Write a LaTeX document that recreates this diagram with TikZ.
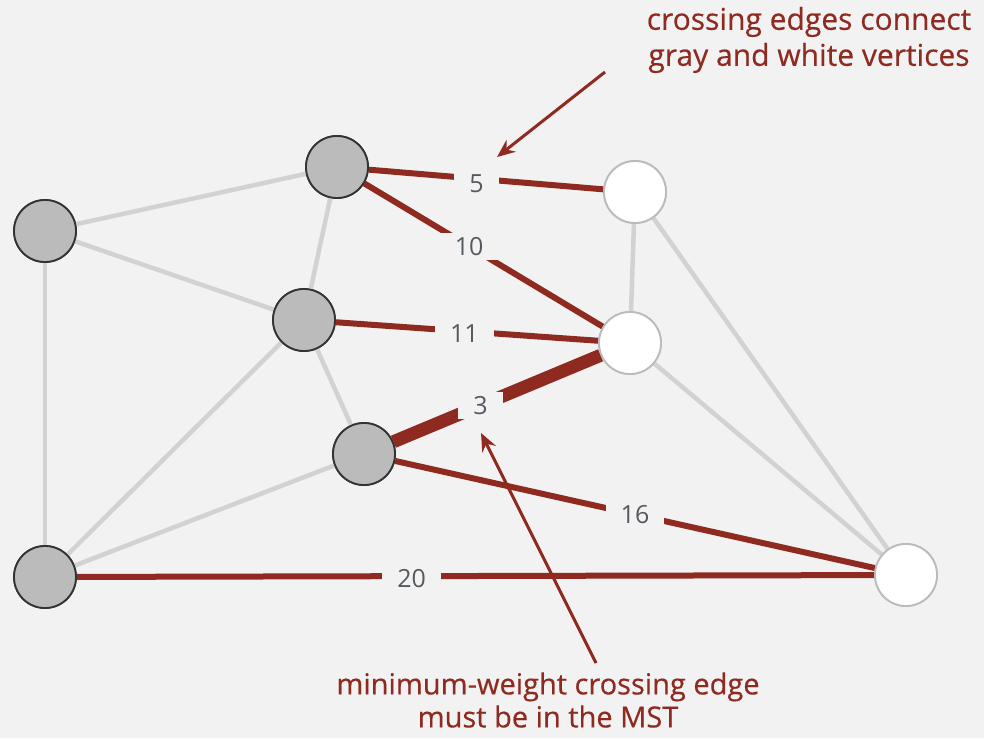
\documentclass[tikz,border=0pt]{standalone}
\usepackage{fontspec}
\setmainfont{Open Sans}
\newfontfamily\notefont[FakeBold=0.4]{Open Sans}
\usetikzlibrary{arrows.meta}
\definecolor{bg}{HTML}{F2F2F2}
\definecolor{mred}{HTML}{8E2A20}
\definecolor{lgray}{HTML}{D2D2D2}
\definecolor{vgray}{HTML}{BBBBBB}
\definecolor{numgray}{HTML}{555A60}
\tikzset{
  gv/.style={circle, draw=black!80, fill=vgray, line width=1.8pt, minimum size=62pt, inner sep=0pt},
  wv/.style={circle, draw=vgray, fill=white, line width=1.8pt, minimum size=62pt, inner sep=0pt},
  ge/.style={draw=lgray, line width=4.5pt},
  re/.style={draw=mred, line width=6pt},
  lbl/.style={fill=bg, text=numgray, font=\fontsize{25}{27}\selectfont, inner xsep=15pt, inner ysep=4pt},
  note/.style={text=mred, font=\notefont\fontsize{30}{36}\selectfont, align=center},
  arr/.style={draw=mred, line width=3pt, -{Stealth[length=18pt,width=15pt,inset=6pt]}}
}
\begin{document}
\begin{tikzpicture}[x=1pt,y=-1pt]
\fill[bg] (0,0) rectangle (984,738);
\useasboundingbox (0,0) rectangle (984,738);
% vertices
\node[gv] (A) at (45,231) {};
\node[gv] (B) at (337,167) {};
\node[gv] (C) at (304,320) {};
\node[gv] (D) at (364,454) {};
\node[gv] (E) at (45,577) {};
\node[wv] (F) at (635,192) {};
\node[wv] (G) at (630,343) {};
\node[wv] (H) at (906,575) {};
% gray edges
\path[ge] (A) -- (B);
\path[ge] (A) -- (C);
\path[ge] (A) -- (E);
\path[ge] (B) -- (C);
\path[ge] (C) -- (D);
\path[ge] (C) -- (E);
\path[ge] (D) -- (E);
\path[ge] (F) -- (G);
\path[ge] (F) -- (H);
\path[ge] (G) -- (H);
% red crossing edges
\path[re] (B) -- node[lbl, pos=0.46, yshift=-5pt] (l5) {5} (F);
\path[re] (B) -- node[lbl, pos=0.44] (l10) {10} (G);
\path[re] (C) -- node[lbl, pos=0.49, yshift=-2pt] (l11) {11} (G);
\path[re, line width=13pt] (D) -- node[lbl, pos=0.42] (l3) {3} (G);
\path[re] (D) -- node[lbl, pos=0.50] (l16) {16} (H);
\path[re] (E) -- node[lbl, pos=0.42, yshift=-2pt] (l20) {20} (H);
% redraw vertices on top
\node[gv] at (A) {};
\node[gv] at (B) {};
\node[gv] at (C) {};
\node[gv] at (D) {};
\node[gv] at (E) {};
\node[wv] at (F) {};
\node[wv] at (G) {};
\node[wv] at (H) {};
% annotations
\node[note] (t1) at (809,40) {crossing edges connect\\gray and white vertices};
\node[note, font=\notefont\fontsize{29}{33}\selectfont] (t2) at (548,700) {minimum-weight crossing edge\\must be in the MST};
\coordinate (a1s) at (605,72);
\coordinate (a1e) at (497,157);
\coordinate (a2s) at (596,663);
\coordinate (a2e) at (481,433);
\draw[arr] (a1s) -- (a1e);
\draw[arr] (a2s) -- (a2e);
\end{tikzpicture}
\end{document}
